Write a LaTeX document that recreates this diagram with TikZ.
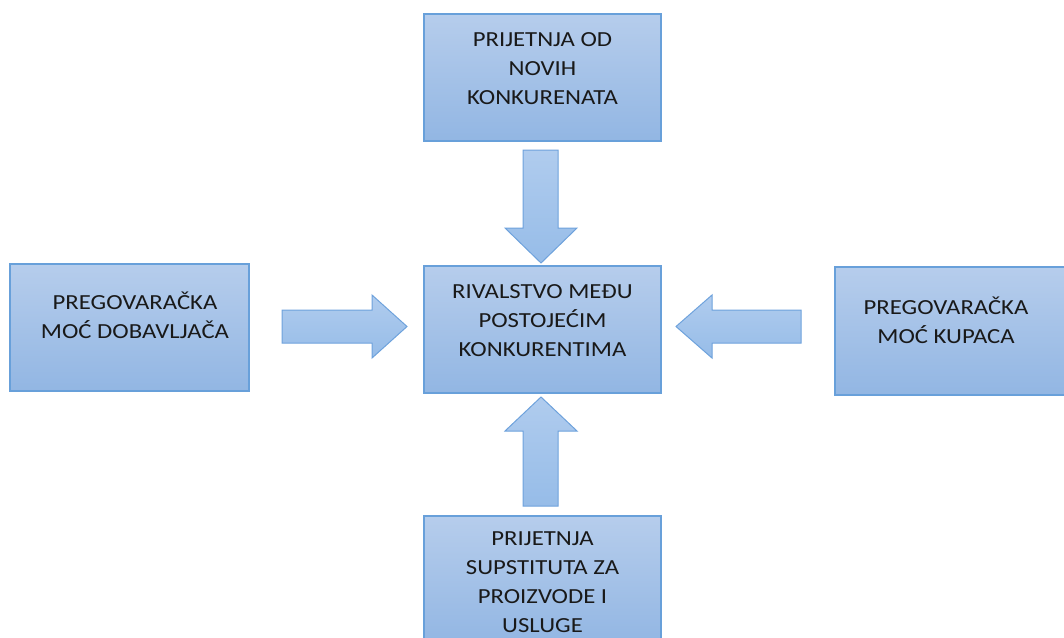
\documentclass[tikz,border=0pt]{standalone}
\usepackage{fontspec}
\setmainfont{Carlito}[FakeStretch=1.15]
\definecolor{boxtop}{RGB}{182,205,236}
\definecolor{boxbot}{RGB}{146,182,227}
\definecolor{boxline}{RGB}{104,160,218}
\definecolor{arrfilltop}{RGB}{176,204,238}
\definecolor{arrfillbot}{RGB}{150,188,232}
\definecolor{arrline}{RGB}{110,162,220}
\definecolor{txt}{RGB}{25,25,25}
\begin{document}
\begin{tikzpicture}[x=1pt,y=-1pt,
  box/.style={draw=boxline,line width=1.2pt,top color=boxtop,bottom color=boxbot,inner sep=0pt},
  lbl/.style={align=center,text=txt,font=\fontsize{21.5}{29}\selectfont,inner sep=0pt},
  blk/.style={draw=arrline,line width=1pt,top color=arrfilltop,bottom color=arrfillbot,line join=miter}]
\useasboundingbox (0,0) rectangle (1064,637);
% boxes
\path[box] (424,14) rectangle (661,141);
\path[box] (424,266) rectangle (661,393);
\path[box] (10,264) rectangle (249,391);
\path[box] (835,267) rectangle (1070,395);
\path[box] (424,516) rectangle (661,645);
% texts
\node[lbl] (ttop) at (542.5,69) {PRIJETNJA OD\\NOVIH\\KONKURENATA};
\node[lbl] (tctr) at (542.5,321) {RIVALSTVO MEĐU\\POSTOJEĆIM\\KONKURENTIMA};
\node[lbl] (tlft) at (135,315) {PREGOVARAČKA\\MOĆ DOBAVLJAČA};
\node[lbl] (trgt) at (946,320) {PREGOVARAČKA\\MOĆ KUPACA};
\node[lbl] (tbot) at (542.5,582) {PRIJETNJA\\SUPSTITUTA ZA\\PROIZVODE I\\USLUGE};
% block arrows
\path[blk] (523,150) -- (558,150) -- (558,228) -- (577,228) -- (541,263) -- (505,228) -- (523,228) -- cycle;
\path[blk] (523,506) -- (558,506) -- (558,431) -- (577,431) -- (541,397) -- (505,431) -- (523,431) -- cycle;
\path[blk] (282,310) -- (372,310) -- (372,295) -- (407,326.5) -- (372,358) -- (372,343) -- (282,343) -- cycle;
\path[blk] (801,310) -- (712,310) -- (712,295) -- (676,326.5) -- (712,358) -- (712,343) -- (801,343) -- cycle;
\end{tikzpicture}
\end{document}
